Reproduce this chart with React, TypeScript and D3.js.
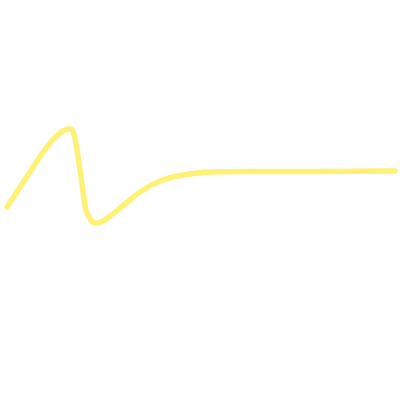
import React from "react";
import * as d3 from "d3";

const xs = [0, 23, 43, 53, 58, 61, 64, 67, 73, 79, 83, 86, 90, 96, 103, 118, 133, 153, 173, 193, 213, 243, 293, 388];
const ys = [43, 78, 107, 117, 120, 121, 121, 116, 80, 40, 31, 28, 27, 29, 34, 46, 58, 69, 74.5, 77.3, 78.2, 78.5, 78.5, 79];

export default function App() {
  const x = d3.scaleLinear().domain([0, 388]).range([7, 395]);
  const y = d3.scaleLinear().domain([0, 150]).range([250, 100]);
  const data = xs.map((v, i) => [v, ys[i]] as [number, number]);
  const line = d3
    .line<[number, number]>()
    .x((d) => x(d[0]))
    .y((d) => y(d[1]))
    .curve(d3.curveMonotoneX);
  return (
    <svg width={400} height={400} style={{ position: "absolute", left: 0, top: 0 }}>
      <path d={line(data) || ""} fill="none" stroke="#fff176" strokeWidth={5.5} strokeLinecap="round" strokeLinejoin="round" />
    </svg>
  );
}
